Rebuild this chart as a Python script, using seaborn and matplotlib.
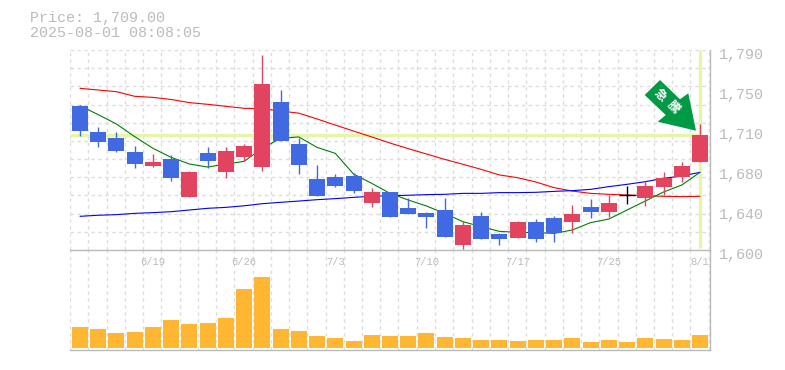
import matplotlib
matplotlib.use("Agg")
import numpy as np
import pandas as pd
import seaborn as sns
from matplotlib import pyplot as plt
from matplotlib.patches import Polygon
from matplotlib.transforms import ScaledTranslation

# daily prices, oldest first
opens = [1737, 1712, 1706, 1693, 1680, 1686, 1650, 1692, 1674, 1688, 1679, 1741,
         1701, 1667, 1669, 1670, 1645, 1655, 1640, 1635, 1638, 1605, 1632, 1615,
         1611, 1627, 1630, 1627, 1641, 1636, 1652, 1649, 1660, 1669, 1684]
highs = [1738, 1717, 1712, 1699, 1691, 1690, 1675, 1698, 1698, 1701, 1785, 1752,
         1706, 1681, 1672, 1673, 1659, 1655, 1649, 1636, 1649, 1628, 1636, 1616,
         1628, 1629, 1632, 1643, 1648, 1652, 1661, 1666, 1674, 1684, 1720]
lows = [1708, 1698, 1693, 1678, 1679, 1666, 1650, 1678, 1668, 1685, 1675, 1704,
        1672, 1651, 1660, 1654, 1641, 1631, 1634, 1621, 1612, 1601, 1610, 1605,
        1611, 1608, 1608, 1616, 1630, 1631, 1644, 1642, 1652, 1665, 1684]
closes = [1713, 1703, 1694, 1682, 1684, 1668, 1674, 1685, 1694, 1699, 1758, 1704,
          1681, 1651, 1661, 1656, 1655, 1631, 1634, 1631, 1612, 1624, 1610, 1610,
          1627, 1610, 1616, 1634, 1636, 1645, 1652, 1661, 1668, 1680, 1709]
volumes = [63, 57, 45, 48, 63, 84, 72, 75, 90, 177, 213, 57, 51, 36, 30, 21, 39, 36,
           36, 45, 33, 30, 24, 24, 21, 24, 24, 30, 18, 24, 18, 30, 27, 24, 39]

ma_short = [1737, 1728.6, 1719.7, 1707.7, 1696.6, 1688, 1681.7, 1678.8, 1681.7, 1684.2,
            1696.6, 1706.1, 1707.4, 1697.5, 1691.8, 1672.2, 1663.3, 1653.8, 1647.5, 1641.8,
            1634.8, 1626.9, 1622.2, 1617.7, 1616.8, 1616.5, 1615.8, 1619, 1626, 1629.4,
            1638, 1646.5, 1655.1, 1661.7, 1673.8]
ma_mid = [1753.6, 1752, 1750.4, 1746, 1745, 1743, 1740, 1738.4, 1736.5, 1734.6,
          1734.3, 1732, 1730, 1724.5, 1718.7, 1713, 1707.4, 1701.6, 1696.3, 1691.2,
          1686.1, 1681.4, 1676.6, 1671.3, 1668.7, 1664.6, 1659.2, 1656, 1653.8, 1652.9,
          1652.2, 1651.6, 1651, 1650.7, 1651]
ma_long = [1632, 1633, 1633.6, 1634.8, 1635.5, 1636.4, 1638, 1639.6, 1640.5, 1642,
           1644, 1645.3, 1646.5, 1647.8, 1648.8, 1650, 1651, 1651.6, 1652, 1652.6,
           1652.9, 1653.8, 1653.8, 1654.5, 1654.5, 1654.8, 1655.7, 1656.4, 1657.6, 1660.2,
           1662.4, 1664.9, 1668.1, 1670.3, 1673.8]

date_ticks = [4, 9, 14, 19, 24, 29, 34]
date_labels = ["6/19", "6/26", "7/3", "7/10", "7/17", "7/25", "8/1"]
price_ticks = [1790, 1752, 1714, 1676, 1638, 1600]
price_labels = ["1,790", "1,750", "1,710", "1,680", "1,640", "1,600"]
last_price = 1709

UP = "#E2435F"
DOWN = "#4169E1"
GRID = "#DDDDDD"
FRAME = "#BBBBBB"
LIME = "#E6F5A8"
ORANGE = "#FFB733"
W, H = 785, 370
SLOT = 18.235
XLIM = ((70 - 80) / SLOT, (710 - 80) / SLOT)

sns.set_theme(style="white")
plt.rcParams["font.family"] = ["Liberation Mono", "Noto Sans CJK JP", "DejaVu Sans"]

frame = pd.DataFrame({"day": range(len(opens)), "open": opens, "high": highs, "low": lows,
                      "close": closes, "volume": volumes})
frame["top"] = frame[["open", "close"]].max(axis=1)
frame["bottom"] = frame[["open", "close"]].min(axis=1)

fig = plt.figure(figsize=(W / 100, H / 100), dpi=100)
price_ax = fig.add_axes([70 / W, 1 - 250 / H, 640 / W, 200 / H], zorder=2)
volume_ax = fig.add_axes([70 / W, 1 - 350 / H, 640 / W, 100 / H], zorder=1)
price_ax.patch.set_alpha(0)


def grid_days():
    return np.arange(36) * 18.25 / SLOT + XLIM[0]


# volume
sns.barplot(data=frame, x="day", y="volume", native_scale=True, width=16 / SLOT, color=ORANGE,
            saturation=1, errorbar=None, linewidth=0, ax=volume_ax, zorder=3)
volume_ax.vlines(grid_days(), -6, 294, color=GRID, lw=1, ls=(0, (2.5, 2.5)), zorder=1)
volume_ax.set_xlim(XLIM)
volume_ax.set_ylim(-6, 294)
volume_ax.set_xticks([])
volume_ax.set_yticks([])
volume_ax.set_xlabel("")
volume_ax.set_ylabel("")

# grid and last price markers
price_ax.vlines(grid_days(), 1600, 1790, color=GRID, lw=1, ls=(0, (2.5, 2.5)), zorder=1)
price_ax.hlines(np.linspace(1600, 1790, 12), *XLIM, color=GRID, lw=1, ls=(0, (2.5, 2.5)), zorder=1)
price_ax.hlines(last_price, XLIM[0], 34, color=LIME, lw=2.4, zorder=2)
price_ax.vlines(34, 1602, 1790, color=LIME, lw=2.4, zorder=2)

# moving averages
days = frame["day"]
sns.lineplot(x=days, y=ma_mid, color="#FF0000", lw=0.8, ax=price_ax, zorder=3, errorbar=None)
sns.lineplot(x=days, y=ma_long, color="#0000FF", lw=0.8, ax=price_ax, zorder=3, errorbar=None)
sns.lineplot(x=days, y=ma_short, color="#008000", lw=0.8, ax=price_ax, zorder=3, errorbar=None)

# candles
for subset, colour in [(frame[frame.close > frame.open], UP), (frame[frame.close < frame.open], DOWN)]:
    price_ax.vlines(subset["day"], subset["low"], subset["high"], color=colour, lw=1, zorder=4)
    sns.barplot(x=subset["day"], y=subset["top"] - subset["bottom"], bottom=subset["bottom"],
                native_scale=True, width=16 / SLOT, color=colour, saturation=1, errorbar=None,
                linewidth=0, ax=price_ax, zorder=5)
flat = frame[frame.close == frame.open]
price_ax.vlines(flat["day"], flat["low"], flat["high"], color="black", lw=1, zorder=5)
price_ax.hlines(flat["close"], flat["day"] - 8 / SLOT, flat["day"] + 8 / SLOT, color="black", lw=1, zorder=5)

price_ax.set_xlim(XLIM)
price_ax.set_ylim(1600, 1790)
price_ax.set_xticks(date_ticks, date_labels)
price_ax.set_yticks(price_ticks, price_labels)
price_ax.set_xlabel("")
price_ax.set_ylabel("")
price_ax.yaxis.tick_right()
price_ax.tick_params(axis="x", length=0, pad=5, labelsize=7.6, labelcolor=FRAME)
price_ax.tick_params(axis="y", length=0, pad=6.4, labelsize=10.8, labelcolor=FRAME)
for label in price_ax.get_yticklabels():
    label.set_transform(label.get_transform() + ScaledTranslation(0, -3 / 100, fig.dpi_scale_trans))

for ax in (price_ax, volume_ax):
    ax.grid(False)
    for side in ("left", "top"):
        ax.spines[side].set_visible(False)
    for side in ("right", "bottom"):
        ax.spines[side].set_color(FRAME)
        ax.spines[side].set_linewidth(1)

# signal arrow, in figure pixels
arrow_px = [(644.7, 95), (660, 80), (680, 99.3), (688.3, 93.3), (696, 130.7), (657.7, 121.7), (665.7, 115)]
fig.add_artist(Polygon([(x / W, 1 - y / H) for x, y in arrow_px], closed=True, color="#009944",
                       lw=0, transform=fig.transFigure, zorder=6))
for glyph, gx, gy in [("急", 660, 95), ("騰", 673, 107)]:
    fig.text(gx / W, 1 - gy / H, glyph, color="white", fontsize=8.8, fontweight="bold", rotation=-45,
             ha="center", va="center", family=["Noto Sans CJK JP"], zorder=7)

fig.text(30 / W, 1 - 18 / H, "Price: 1,709.00", color=FRAME, fontsize=10.8, va="center")
fig.text(30 / W, 1 - 33 / H, "2025-08-01 08:08:05", color=FRAME, fontsize=10.8, va="center")

fig.savefig("out.png", dpi=100)
